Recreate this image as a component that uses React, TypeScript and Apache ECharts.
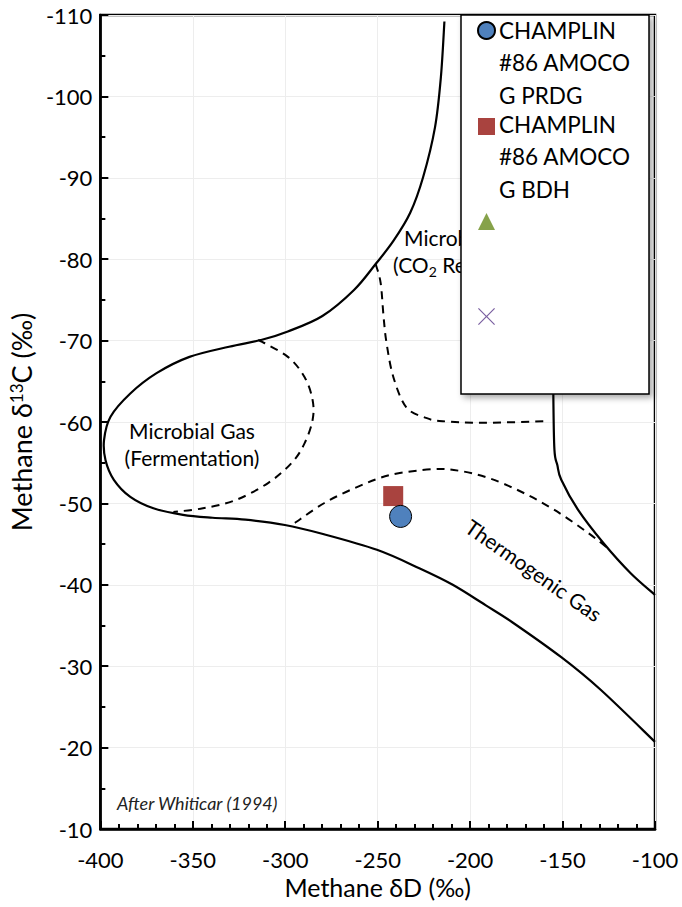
import React, { useEffect, useRef } from "react";
import * as echarts from "echarts";

// ---- data ----
const xTicks = { min: -400, max: -100, interval: 50 };
const yTicks = { min: -110, max: -10, interval: 10 };

// Solid boundary: microbial / thermogenic envelope
const solidEnvelope: number[][] = [
  [-213.9, -109.2], [-215.8, -102.4], [-219.0, -96.2], [-225.4, -90.1], [-232.4, -85.7],
  [-241.5, -82.24], [-251.1, -79.41], [-262.8, -76.22], [-279.9, -73.02], [-298.6, -71.12],
  [-312.6, -70.1], [-330.4, -69.25], [-351.8, -68.0], [-369.6, -66.0], [-383.8, -63.5],
  [-394.5, -60.65], [-398.0, -57.8], [-397.2, -55.3], [-392.7, -52.9], [-383.8, -50.8],
  [-371.3, -49.4], [-355.3, -48.6], [-339.3, -48.24], [-321.5, -48.0], [-300.2, -47.35],
  [-280.6, -46.3], [-250.4, -44.3], [-227.2, -42.0], [-209.4, -40.0], [-191.7, -37.5],
  [-177.4, -35.43], [-150.7, -31.1], [-129.4, -27.1], [-100.0, -20.7],
];
// Solid boundary on the right
const solidRight: number[][] = [
  [-156.0, -110.0], [-155.6, -85.0], [-155.0, -63.6], [-154.4, -56.6], [-152.8, -54.7],
  [-150.7, -52.9], [-141.6, -49.2], [-127.8, -45.1], [-113.3, -41.45], [-100.0, -38.75],
];
// Dashed: fermentation field
const dashFermentation: number[][] = [
  [-314.6, -70.1], [-298.6, -68.0], [-289.5, -65.5], [-285.2, -62.7], [-285.2, -60.25],
  [-289.5, -57.4], [-296.4, -55.0], [-309.3, -52.5], [-326.9, -50.4], [-344.5, -49.4],
  [-360.5, -48.95],
];
// Dashed: CO2 reduction field
const dashCO2: number[][] = [
  [-251.1, -79.41], [-248.4, -77.1], [-246.8, -72.9], [-245.2, -69.7], [-241.5, -65.5],
  [-234.5, -61.8], [-223.8, -60.5], [-214.8, -60.1], [-193.4, -59.9], [-159.8, -60.1],
];
// Dashed: thermogenic field
const dashThermogenic: number[][] = [
  [-294.8, -47.6], [-278.8, -50.05], [-261.2, -52.0], [-243.1, -53.5], [-220.1, -54.2],
  [-205.7, -54.0], [-189.7, -53.1], [-172.1, -51.4], [-154.4, -49.2], [-136.3, -46.4],
  [-125.6, -44.5],
];

// Samples
const prdg: number[][] = [[-237.6, -48.4]];
const bdh: number[][] = [[-241.6, -50.9]];
const seriesNames = ["CHAMPLIN #86 AMOCO G PRDG", "CHAMPLIN #86 AMOCO G BDH", "Series 3", "Series 4"];
const legendTexts = ["CHAMPLIN\n#86 AMOCO\nG PRDG", "CHAMPLIN\n#86 AMOCO\nG BDH"];

const FONT = "Lato, 'Noto Sans', sans-serif";
const X_PATH = "path://M0,1 L1,0 L10,9 L19,0 L20,1 L11,10 L20,19 L19,20 L10,11 L1,20 L0,19 L9,10 Z";

// Smooth curve through the data points (Catmull-Rom rendered as cubic Béziers in pixel space)
function curveSeries(name: string, data: number[][], dashed: boolean) {
  return {
    type: "custom",
    name,
    data,
    encode: { x: 0, y: 1 },
    silent: true,
    clip: true,
    z: 3,
    renderItem: (params: any, api: any) => {
      if (params.dataIndex !== 0) return null;
      const p = data.map((d) => api.coord(d));
      const n = p.length;
      let d = `M${p[0][0]},${p[0][1]}`;
      for (let i = 0; i < n - 1; i++) {
        const p0 = p[Math.max(i - 1, 0)];
        const p1 = p[i];
        const p2 = p[i + 1];
        const p3 = p[Math.min(i + 2, n - 1)];
        const c1x = p1[0] + (p2[0] - p0[0]) / 6;
        const c1y = p1[1] + (p2[1] - p0[1]) / 6;
        const c2x = p2[0] - (p3[0] - p1[0]) / 6;
        const c2y = p2[1] - (p3[1] - p1[1]) / 6;
        d += ` C${c1x},${c1y} ${c2x},${c2y} ${p2[0]},${p2[1]}`;
      }
      return {
        type: "path",
        shape: { pathData: d },
        style: {
          stroke: "#000",
          fill: "none",
          lineWidth: dashed ? 2 : 2.2,
          lineDash: dashed ? [8, 6] : null,
        },
      };
    },
  };
}

export default function App() {
  const ref = useRef<HTMLDivElement>(null);
  useEffect(() => {
    document.body.style.margin = "0";
    const chart = echarts.init(ref.current!, null, { renderer: "svg" });
    chart.setOption({
      animation: false,
      grid: {
        left: 93, right: 27, top: 15, bottom: 78,
        show: true, borderColor: "#000", borderWidth: 2.5, backgroundColor: "transparent",
      },
      xAxis: {
        type: "value",
        min: xTicks.min, max: xTicks.max, interval: xTicks.interval,
        name: "Methane δD (‰)",
        nameLocation: "middle",
        nameGap: 45,
        nameTextStyle: { fontFamily: FONT, fontSize: 25, color: "#000" },
        axisLine: { show: true, lineStyle: { color: "#000", width: 2.5 } },
        axisTick: { show: true, inside: true, length: 8, lineStyle: { color: "#000", width: 2 } },
        minorTick: { show: true, splitNumber: 5, length: 5, lineStyle: { color: "#000", width: 2 } },
        axisLabel: { fontFamily: FONT, fontSize: 22, color: "#000", margin: 19 },
        splitLine: { show: true, lineStyle: { color: "#ededed", width: 1 } },
      },
      yAxis: {
        type: "value",
        inverse: true,
        min: yTicks.min, max: yTicks.max, interval: yTicks.interval,
        name: "{a|Methane δ}{s|13}{a|C (‰)}",
        nameLocation: "middle",
        nameGap: 56,
        nameTextStyle: {
          color: "#000",
          rich: {
            a: { fontFamily: FONT, fontSize: 27, color: "#000" },
            s: { fontFamily: FONT, fontSize: 17, color: "#000", verticalAlign: "top", lineHeight: 27 },
          },
        },
        axisLine: { show: true, lineStyle: { color: "#000", width: 2.5 } },
        axisTick: { show: true, inside: true, length: 8, lineStyle: { color: "#000", width: 2 } },
        minorTick: { show: true, splitNumber: 2, length: 5, lineStyle: { color: "#000", width: 2 } },
        axisLabel: { fontFamily: FONT, fontSize: 22, color: "#000", margin: 8 },
        splitLine: { show: true, lineStyle: { color: "#ededed", width: 1 } },
      },
      legend: {
        data: seriesNames,
        orient: "vertical",
        left: 461,
        top: 15,
        itemWidth: 17,
        itemHeight: 17,
        itemGap: 78,
        padding: [6, 153, 69, 16],
        formatter: () => "",
        backgroundColor: "#fff",
        borderColor: "#000",
        borderWidth: 1.5,
        shadowBlur: 6,
        shadowColor: "rgba(0,0,0,0.35)",
        shadowOffsetX: 3,
        shadowOffsetY: 3,
        selectedMode: false,
        z: 10,
      },
      graphic: [
        {
          type: "text", left: 499, top: 14, z: 20, silent: true,
          style: { text: legendTexts[0], fontFamily: FONT, fontSize: 22.5, lineHeight: 32.5, fill: "#000" },
        },
        {
          type: "text", left: 499, top: 108, z: 20, silent: true,
          style: { text: legendTexts[1], fontFamily: FONT, fontSize: 22.5, lineHeight: 32.5, fill: "#000" },
        },
        {
          type: "text", x: 192, y: 444, z: 1, silent: true,
          style: {
            text: "Microbial Gas\n(Fermentation)", fontFamily: FONT, fontSize: 21, lineHeight: 27,
            fill: "#000", align: "center", verticalAlign: "middle",
          },
        },
        {
          type: "text", x: 467, y: 251, z: 1, silent: true,
          style: {
            text: "{a|Microbial Gas}\n{a|(CO}{b|2}{a| Reduction)}",
            fill: "#000", align: "center", verticalAlign: "middle",
            rich: {
              a: { fontFamily: FONT, fontSize: 21, lineHeight: 27, fill: "#000" },
              b: { fontFamily: FONT, fontSize: 14, lineHeight: 27, fill: "#000", verticalAlign: "bottom" },
            },
          },
        },
        {
          type: "text", x: 534, y: 570, z: 1, silent: true, rotation: (-35 * Math.PI) / 180,
          style: {
            text: "Thermogenic Gas", fontFamily: FONT, fontSize: 21, fill: "#000",
            align: "center", verticalAlign: "middle",
          },
        },
        {
          type: "text", x: 117, y: 803, z: 1, silent: true,
          style: {
            text: "After Whiticar (1994)", fontFamily: FONT, fontSize: 18, fontStyle: "italic",
            fill: "#222", align: "left", verticalAlign: "middle",
          },
        },
      ],
      series: [
        curveSeries("Envelope", solidEnvelope, false),
        curveSeries("Right boundary", solidRight, false),
        curveSeries("Fermentation field", dashFermentation, true),
        curveSeries("CO2 reduction field", dashCO2, true),
        curveSeries("Thermogenic field", dashThermogenic, true),
        {
          name: seriesNames[0], type: "scatter", data: prdg, symbol: "circle", symbolSize: 22, z: 6,
          itemStyle: { color: "#4F81BD", borderColor: "#000", borderWidth: 1, opacity: 1 },
        },
        {
          name: seriesNames[1], type: "scatter", data: bdh, symbol: "rect", symbolSize: 20, z: 5,
          itemStyle: { color: "#A9433F", opacity: 1 },
        },
        {
          name: seriesNames[2], type: "scatter", data: [], symbol: "triangle", symbolSize: 17, z: 5,
          itemStyle: { color: "#86A24A", opacity: 1 },
        },
        {
          name: seriesNames[3], type: "scatter", data: [], symbol: X_PATH, symbolSize: 17, z: 5,
          itemStyle: { color: "#7A5FA0", opacity: 1 },
        },
      ],
    });
    return () => chart.dispose();
  }, []);
  return <div ref={ref} style={{ position: "absolute", left: 0, top: 0, width: 682, height: 907 }} />;
}
